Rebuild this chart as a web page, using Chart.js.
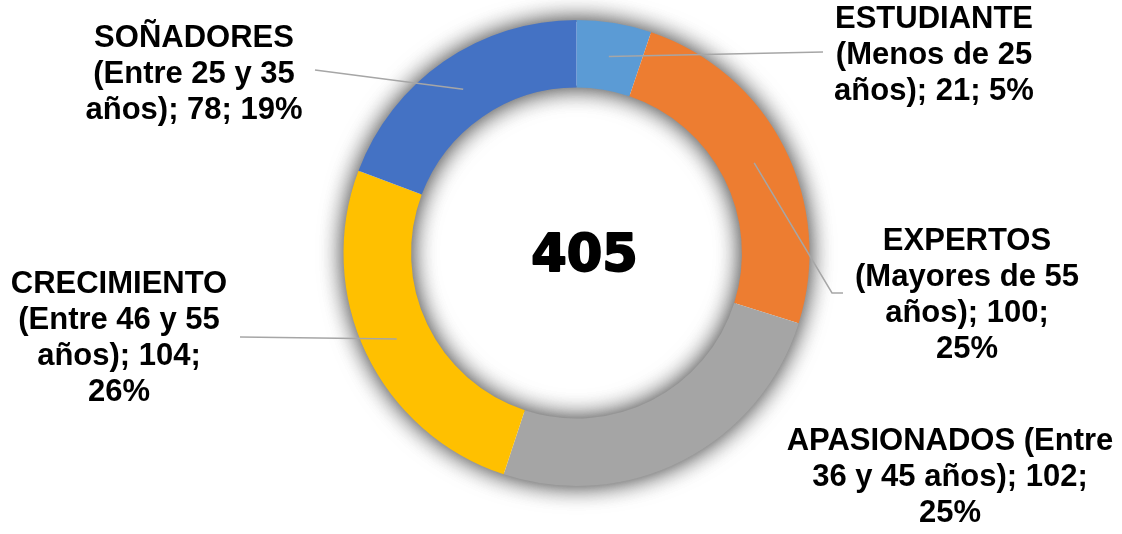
<!DOCTYPE html>
<html>
<head>
<meta charset="utf-8">
<script src="https://cdn.jsdelivr.net/npm/chart.js@4.4.1/dist/chart.umd.min.js"></script>
<style>
    html, body { margin: 0; padding: 0; background: #ffffff; }
    #wrap { width: 1122px; height: 534px; }
</style>
</head>
<body>
<div id="wrap"><canvas id="donut"></canvas></div>
<script>
// data
const categories = [
    "ESTUDIANTE (Menos de 25 años)",
    "EXPERTOS (Mayores de 55 años)",
    "APASIONADOS (Entre 36 y 45 años)",
    "CRECIMIENTO (Entre 46 y 55 años)",
    "SOÑADORES (Entre 25 y 35 años)",
];
const counts = [21, 100, 102, 104, 78];
const percents = [5, 25, 25, 26, 19];
const totalLabel = "405";

const colors = ["#5B9BD5", "#ED7D31", "#A5A5A5", "#FFC000", "#4472C4"];

// where each data label sits (text centre, first baseline, wrap width, leader end)
const labelLayout = [
    { cx: 934, y: 28, maxW: 210, end: [[823, 52]] },
    { cx: 967, y: 250, maxW: 228, end: [[843, 293], [832, 293]] },
    { cx: 950, y: 450, maxW: 335, end: null },
    { cx: 119, y: 293, maxW: 225, end: [[240, 337]] },
    { cx: 194, y: 47, maxW: 225, end: [[315, 70]] },
];
const labelFont = "bold 31px 'Liberation Sans', Arial, sans-serif";
const lineH = 36;

function wrap(ctx, text, maxW) {
    const words = text.split(" ");
    const lines = [];
    let cur = "";
    words.forEach((w) => {
        const t = cur ? cur + " " + w : w;
        if (cur && ctx.measureText(t).width > maxW) {
            lines.push(cur);
            cur = w;
        } else {
            cur = t;
        }
    });
    if (cur) lines.push(cur);
    return lines;
}

// soft grey glow round the ring, inside and out
const ringShadow = {
    id: "ringShadow",
    beforeDatasetsDraw(chart) {
        const arc = chart.getDatasetMeta(0).data[0];
        if (!arc) return;
        const ctx = chart.ctx;
        ctx.save();
        ctx.beginPath();
        ctx.arc(arc.x, arc.y, arc.outerRadius - 2, 0, Math.PI * 2);
        ctx.arc(arc.x, arc.y, arc.innerRadius + 2, 0, Math.PI * 2, true);
        ctx.shadowColor = "rgba(0,0,0,0.55)";
        ctx.shadowBlur = 26;
        ctx.fillStyle = "#ffffff";
        ctx.fill();
        ctx.fill();
        ctx.restore();
    },
};

const donutLabels = {
    id: "donutLabels",
    afterDatasetsDraw(chart) {
        const ctx = chart.ctx;
        const meta = chart.getDatasetMeta(0);
        ctx.save();
        // leader lines
        ctx.strokeStyle = "#A6A6A6";
        ctx.lineWidth = 1.5;
        meta.data.forEach((el, i) => {
            const lay = labelLayout[i];
            if (!lay.end) return;
            const p = el.tooltipPosition();
            ctx.beginPath();
            ctx.moveTo(p.x, p.y);
            for (let k = lay.end.length - 1; k >= 0; k--) {
                ctx.lineTo(lay.end[k][0], lay.end[k][1]);
            }
            ctx.stroke();
        });
        // label text
        ctx.font = labelFont;
        ctx.fillStyle = "#000000";
        ctx.textAlign = "center";
        ctx.textBaseline = "alphabetic";
        categories.forEach((c, i) => {
            const lay = labelLayout[i];
            const text = c + "; " + counts[i] + "; " + percents[i] + "%";
            wrap(ctx, text, lay.maxW).forEach((ln, k) => {
                ctx.fillText(ln, lay.cx, lay.y + k * lineH);
            });
        });
        // total in the hole, heavy
        const arc = meta.data[0];
        ctx.font = "bold 51px 'DejaVu Sans', sans-serif";
        ctx.strokeStyle = "#000000";
        ctx.lineWidth = 2;
        ctx.lineJoin = "round";
        ctx.strokeText(totalLabel, arc.x + 8, arc.y + 18);
        ctx.fillText(totalLabel, arc.x + 8, arc.y + 18);
        ctx.restore();
    },
};

new Chart("donut", {
    type: "doughnut",
    data: {
        labels: categories,
        datasets: [
            {
                data: counts,
                backgroundColor: colors,
                borderWidth: 0,
            },
        ],
    },
    options: {
        responsive: true,
        maintainAspectRatio: false,
        animation: false,
        cutout: "71%",
        layout: {
            padding: { top: 20, bottom: 48, left: 31, right: 0 },
        },
        plugins: {
            legend: { display: false },
            tooltip: { enabled: false },
        },
    },
    plugins: [ringShadow, donutLabels],
});
</script>
</body>
</html>
